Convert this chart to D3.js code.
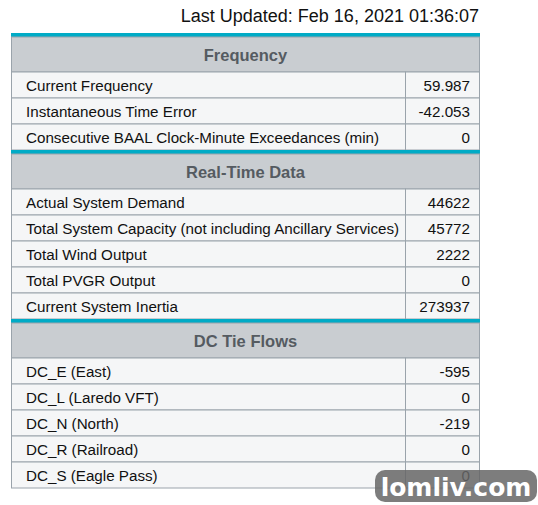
<!DOCTYPE html>
<html><head><meta charset="utf-8">
<script src="https://cdn.jsdelivr.net/npm/d3@7"></script>
<style>body{margin:0;background:#fff}</style></head>
<body><svg id="c" width="538" height="505"></svg>
<script>
const updated = "Last Updated: Feb 16, 2021 01:36:07";
const sections = ["Frequency", "Real-Time Data", "DC Tie Flows"];
const freqLabels = ["Current Frequency", "Instantaneous Time Error", "Consecutive BAAL Clock-Minute Exceedances (min)"];
const freqValues = ["59.987", "-42.053", "0"];
const rtLabels = ["Actual System Demand", "Total System Capacity (not including Ancillary Services)", "Total Wind Output", "Total PVGR Output", "Current System Inertia"];
const rtValues = ["44622", "45772", "2222", "0", "273937"];
const dcLabels = ["DC_E (East)", "DC_L (Laredo VFT)", "DC_N (North)", "DC_R (Railroad)", "DC_S (Eagle Pass)"];
const dcValues = ["-595", "0", "-219", "0", "0"];

const groups = [[freqLabels, freqValues], [rtLabels, rtValues], [dcLabels, dcValues]];
const svg = d3.select("#c");
const font = "Liberation Sans, Arial, sans-serif";
svg.append("text").attr("x", 479).attr("y", 22).attr("text-anchor", "end")
  .attr("font-family", font).attr("font-size", 18).attr("fill", "#111").text(updated);

const x0 = 11.5, x1 = 405.5, x2 = 479.5;
const teal = 4, headH = 35, rowH = 26;
let y = 33;
groups.forEach(([labs, vals], gi) => {
  svg.append("rect").attr("x", 11).attr("y", y).attr("width", 469).attr("height", teal).attr("fill", "#00abc6");
  y += teal;
  svg.append("rect").attr("x", x0).attr("y", y).attr("width", x2 - x0).attr("height", headH)
    .attr("fill", "#c9cdd1").attr("stroke", "#9aa3ab");
  svg.append("text").attr("x", (x0 + x2) / 2).attr("y", y + headH / 2 + 6).attr("text-anchor", "middle")
    .attr("font-family", font).attr("font-weight", "bold").attr("font-size", 16.5).attr("fill", "#555b61").text(sections[gi]);
  y += headH;
  const ys = d3.scaleBand().domain(d3.range(labs.length)).range([y, y + rowH * labs.length]);
  const g = svg.append("g");
  labs.forEach((l, i) => {
    const ry = ys(i);
    g.append("rect").attr("x", x0).attr("y", ry).attr("width", x1 - x0).attr("height", rowH).attr("fill", "#f5f6f7").attr("stroke", "#9aa3ab");
    g.append("rect").attr("x", x1).attr("y", ry).attr("width", x2 - x1).attr("height", rowH).attr("fill", "#f5f6f7").attr("stroke", "#9aa3ab");
    g.append("text").attr("x", 26).attr("y", ry + 18.5).attr("font-family", font).attr("font-size", 15.2).attr("fill", "#111").text(l);
    g.append("text").attr("x", 470).attr("y", ry + 18.5).attr("text-anchor", "end").attr("font-family", font).attr("font-size", 15.2).attr("fill", "#111").text(vals[i]);
  });
  y += rowH * labs.length;
});
// watermark
svg.append("rect").attr("x", 375).attr("y", 470).attr("width", 162).attr("height", 32).attr("rx", 10).attr("fill", "#666").attr("opacity", 0.85);
svg.append("text").attr("x", 456).attr("y", 496).attr("text-anchor", "middle").attr("font-family", "DejaVu Sans, sans-serif")
  .attr("font-weight", "bold").attr("font-size", 25).attr("fill", "#fff").text("lomliv.com");
</script></body></html>
